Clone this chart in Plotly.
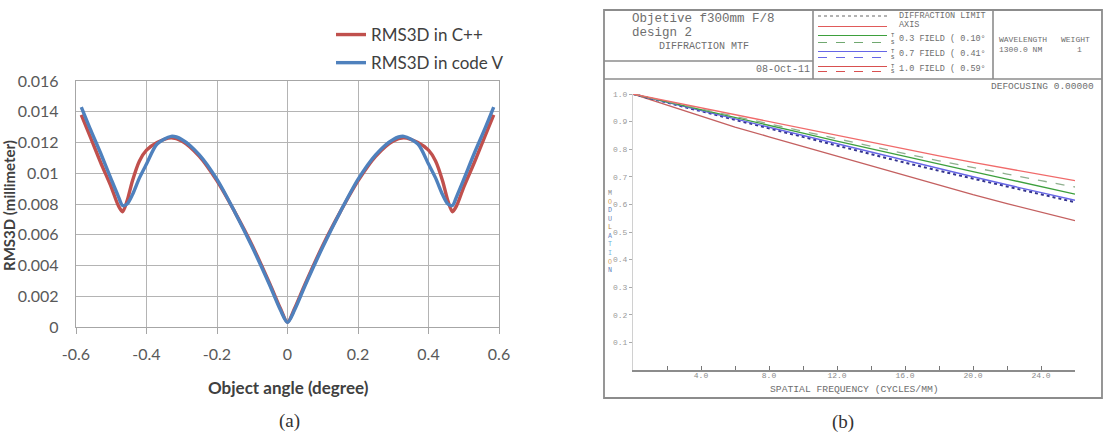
import plotly.graph_objects as go

W, H = 1105, 432


def fx(p):
    return p / W


def fy(p):
    return 1 - p / H


# ---------------- Panel (a) data ----------------
angle = [-0.585, -0.56, -0.53, -0.5, -0.48, -0.468, -0.455, -0.44, -0.42, -0.4,
         -0.37, -0.33, -0.3, -0.25, -0.2, -0.15, -0.1, -0.05, -0.02, 0.0,
         0.02, 0.05, 0.1, 0.15, 0.2, 0.25, 0.3, 0.33, 0.37, 0.4,
         0.42, 0.44, 0.455, 0.468, 0.48, 0.5, 0.53, 0.56, 0.585]
rms_cpp = [0.0138, 0.0124, 0.0107, 0.0091, 0.0079, 0.0075, 0.0082, 0.0095, 0.0108, 0.0115,
           0.0120, 0.0123, 0.0121, 0.0111, 0.0095, 0.0075, 0.0053, 0.0028, 0.0012, 0.0003,
           0.0012, 0.0028, 0.0053, 0.0075, 0.0095, 0.0111, 0.0121, 0.0123, 0.0120, 0.0115,
           0.0108, 0.0095, 0.0082, 0.0075, 0.0079, 0.0091, 0.0107, 0.0124, 0.0138]
rms_codev = [0.0143, 0.0129, 0.0113, 0.0096, 0.0085, 0.0079, 0.0080, 0.0086, 0.0097, 0.0106,
             0.0119, 0.0124, 0.0122, 0.0112, 0.0096, 0.0075, 0.0052, 0.0027, 0.0011, 0.0003,
             0.0011, 0.0027, 0.0052, 0.0075, 0.0096, 0.0112, 0.0122, 0.0124, 0.0119, 0.0106,
             0.0097, 0.0086, 0.0080, 0.0079, 0.0085, 0.0096, 0.0113, 0.0129, 0.0143]
a_xticks = [-0.6, -0.4, -0.2, 0, 0.2, 0.4, 0.6]
a_xticktext = ["-0.6", "-0.4", "-0.2", "0", "0.2", "0.4", "0.6"]
a_yticks = [0, 0.002, 0.004, 0.006, 0.008, 0.01, 0.012, 0.014, 0.016]
a_yticktext = ["0", "0.002", "0.004", "0.006", "0.008", "0.01", "0.012", "0.014", "0.016"]

# ---------------- Panel (b) data ----------------
freq = [0, 2, 4, 6, 8, 10, 12, 14, 16, 18, 20, 22, 24, 26]
mtf_axis = [1.0, 0.975, 0.950, 0.925, 0.900, 0.874, 0.850, 0.825, 0.800, 0.776, 0.752, 0.730, 0.708, 0.686]
mtf_f03_s = [1.0, 0.973, 0.946, 0.919, 0.892, 0.864, 0.836, 0.809, 0.784, 0.758, 0.735, 0.710, 0.686, 0.663]
mtf_f03_t = [1.0, 0.972, 0.944, 0.915, 0.886, 0.858, 0.829, 0.801, 0.773, 0.746, 0.719, 0.692, 0.665, 0.637]
mtf_f07_t = [1.0, 0.970, 0.940, 0.909, 0.878, 0.848, 0.818, 0.788, 0.758, 0.729, 0.700, 0.671, 0.643, 0.615]
mtf_f07_s = [1.0, 0.969, 0.938, 0.906, 0.874, 0.843, 0.812, 0.781, 0.751, 0.722, 0.693, 0.664, 0.636, 0.608]
mtf_f10_t = [1.0, 0.960, 0.918, 0.880, 0.845, 0.810, 0.775, 0.740, 0.705, 0.670, 0.635, 0.603, 0.572, 0.541]
b_xticks = [2, 4, 6, 8, 10, 12, 14, 16, 18, 20, 22, 24]
b_xticktext = ["", "4.0", "", "8.0", "", "12.0", "", "16.0", "", "20.0", "", "24.0"]
b_yticks = [0.1, 0.2, 0.3, 0.4, 0.5, 0.6, 0.7, 0.8, 0.9, 1.0]
b_yticktext = ["0.1", "0.2", "0.3", "0.4", "0.5", "0.6", "0.7", "0.8", "0.9", "1.0"]

RED = "#c0504d"
BLUE = "#4f81bd"
MONO = "Liberation Mono, Courier New, monospace"
SANS = "Lato, Carlito, sans-serif"
SERIF = "Liberation Serif, Times New Roman, serif"

fig = go.Figure()

fig.add_trace(go.Scatter(x=angle, y=rms_cpp, mode="lines", name="RMS3D in C++", legendgroup="a1",
                         line=dict(color=RED, width=3.4, shape="spline", smoothing=0.8),
                         xaxis="x", yaxis="y"))
fig.add_trace(go.Scatter(x=angle, y=rms_codev, mode="lines", name="RMS3D in code V", legendgroup="a2",
                         line=dict(color=BLUE, width=3.4, shape="spline", smoothing=0.8),
                         xaxis="x", yaxis="y"))

b_series = [
    (mtf_f10_t, "#c46060", "solid", 1.3),
    (mtf_f07_s, "#34348f", "dot", 2.0),
    (mtf_f07_t, "#6666e6", "solid", 1.4),
    (mtf_f03_t, "#3da03d", "solid", 1.3),
    (mtf_f03_s, "#8fb08f", "dash", 1.3),
    (mtf_axis, "#f06a6a", "solid", 1.3),
]
for vals, col, dash, w in b_series:
    fig.add_trace(go.Scatter(x=freq, y=vals, mode="lines", showlegend=False,
                             line=dict(color=col, width=w, dash=dash),
                             xaxis="x2", yaxis="y2"))

GRID = "#b4b4b4"
layout = dict(
    width=W, height=H,
    margin=dict(l=0, r=0, t=0, b=0, pad=0, autoexpand=False),
    paper_bgcolor="white", plot_bgcolor="white",
    showlegend=True,
    legend=dict(x=fx(331), y=fy(17), xanchor="left", yanchor="top",
                font=dict(family=SANS, size=17, color="#404040"),
                bgcolor="rgba(0,0,0,0)", itemwidth=30, tracegroupgap=3),
    xaxis=dict(domain=[fx(76), fx(499)], range=[-0.6, 0.6], anchor="y",
               tickvals=a_xticks, ticktext=a_xticktext,
               showgrid=True, gridcolor=GRID, gridwidth=1.3,
               showline=True, linecolor="#a6a6a6", linewidth=1.3, mirror=True,
               ticks="outside", ticklen=6, tickcolor="#a6a6a6",
               zeroline=False, ticklabelstandoff=7,
               tickfont=dict(family=SANS, size=16, color="#595959")),
    yaxis=dict(domain=[fy(327), fy(81)], range=[0, 0.016], anchor="x",
               tickvals=a_yticks, ticktext=a_yticktext,
               showgrid=True, gridcolor=GRID, gridwidth=1.3,
               showline=True, linecolor="#a6a6a6", linewidth=1.3, mirror=True,
               ticks="", zeroline=False, ticklabelstandoff=13,
               tickfont=dict(family=SANS, size=16, color="#595959")),
    xaxis2=dict(domain=[fx(633), fx(1075)], range=[0, 26], anchor="y2",
                tickvals=b_xticks, ticktext=b_xticktext,
                showgrid=False, zeroline=False,
                showline=True, linecolor="#8c8c8c", linewidth=1.5,
                ticks="inside", ticklen=4, tickcolor="#777777", ticklabelstandoff=-3,
                tickfont=dict(family=MONO, size=8, color="#8a8a8a")),
    yaxis2=dict(domain=[fy(370), fy(94)], range=[0, 1.0], anchor="x2",
                tickvals=b_yticks, ticktext=b_yticktext,
                showgrid=False, zeroline=False,
                showline=True, linecolor="#d0d0d0", linewidth=1,
                ticks="outside", ticklen=3, tickcolor="#aaaaaa",
                tickfont=dict(family=MONO, size=8, color="#9a9a9a")),
)
fig.update_layout(**layout)

ann = []


def text(px, py, s, size, family=MONO, color="#6e6e6e", xanchor="left", bold=False, angle=0):
    ann.append(dict(x=fx(px), y=fy(py), xref="paper", yref="paper", text=("<b>%s</b>" % s) if bold else s,
                    showarrow=False, xanchor=xanchor, yanchor="middle", textangle=angle,
                    font=dict(family=family, size=size, color=color)))


# Panel (a) texts
text(288, 387, "Object angle (degree)", 17, family=SANS, color="#404040", xanchor="center", bold=True)
text(9, 206, "RMS3D (millimeter)", 15, family=SANS, color="#404040", xanchor="center", bold=True, angle=-90)
text(289, 421, "(a)", 19, family=SERIF, color="#333333", xanchor="center")

# Panel (b) texts
text(630, 19, "Objetive f300mm F/8", 12.5)
text(630, 33, "design 2", 12.5)
text(657, 46, "DIFFRACTION MTF", 10)
text(812, 70, "08-Oct-11", 10, xanchor="right")
text(897, 16, "DIFFRACTION LIMIT", 8.5)
text(897, 25, "AXIS", 8.5)
text(897, 39, "0.3 FIELD ( 0.10\u00b0", 8.5)
text(897, 54, "0.7 FIELD ( 0.41\u00b0", 8.5)
text(897, 69, "1.0 FIELD ( 0.59\u00b0", 8.5)
for yy in (35.5, 51.5, 66.5):
    text(889, yy, "T", 5.5, color="#555555")
for yy in (42.5, 57.5, 71.5):
    text(889, yy, "S", 5.5, color="#555555")
text(997, 40, "WAVELENGTH", 8)
text(1059, 40, "WEIGHT", 8)
text(997, 50, "1300.0 NM", 8)
text(1079, 50, "1", 8, xanchor="center")
text(1096, 86, "DEFOCUSING 0.00000", 9.5, xanchor="right")
text(854, 389, "SPATIAL FREQUENCY (CYCLES/MM)", 9.7, xanchor="center")
mod_cols = ["#8a8a8a", "#d49a50", "#5a7ab8", "#6a7ab0", "#b08040", "#6a8ac8", "#6ab0d8", "#78b8e0", "#d4a060", "#5a7ab8"]
mod = "<br>".join('<span style="color:%s">%s</span>' % (c, ch) for c, ch in zip(mod_cols, "MODULATION"))
ann.append(dict(x=fx(610), y=fy(232), xref="paper", yref="paper", text=mod, showarrow=False,
                xanchor="center", yanchor="middle",
                font=dict(family=MONO, size=6.6, color="#777777")))
text(843, 422, "(b)", 19, family=SERIF, color="#333333", xanchor="center")

fig.update_layout(annotations=ann)

# Panel (b) frame and header lines
shapes = []


def seg(x0, y0, x1, y1, color="#8c8c8c", width=1.6, dash="solid"):
    shapes.append(dict(type="line", xref="paper", yref="paper", x0=fx(x0), y0=fy(y0), x1=fx(x1), y1=fy(y1),
                       line=dict(color=color, width=width, dash=dash)))


shapes.append(dict(type="rect", xref="paper", yref="paper", x0=fx(604), y0=fy(398), x1=fx(1102), y1=fy(10),
                   line=dict(color="#8c8c8c", width=1.8)))
seg(604, 79, 1102, 79)
seg(604, 61, 813, 61)
seg(813, 10, 813, 79)
seg(993, 10, 993, 79)
# header legend samples
seg(818, 16, 887, 16, color="#666666", width=1, dash="dot")
seg(818, 26.5, 887, 26.5, color="#e05a5a", width=1.2)
seg(818, 35.5, 887, 35.5, color="#3da03d", width=1.2)
seg(818, 42.5, 887, 42.5, color="#70a870", width=1.2, dash="dash")
seg(818, 51.5, 887, 51.5, color="#6666e6", width=1.2)
seg(818, 57.5, 887, 57.5, color="#6666e6", width=1.2, dash="dash")
seg(818, 66.5, 887, 66.5, color="#d85050", width=1.2)
seg(818, 71.5, 887, 71.5, color="#d85050", width=1.2, dash="dash")
fig.update_layout(shapes=shapes)

fig.write_html("out.html")
